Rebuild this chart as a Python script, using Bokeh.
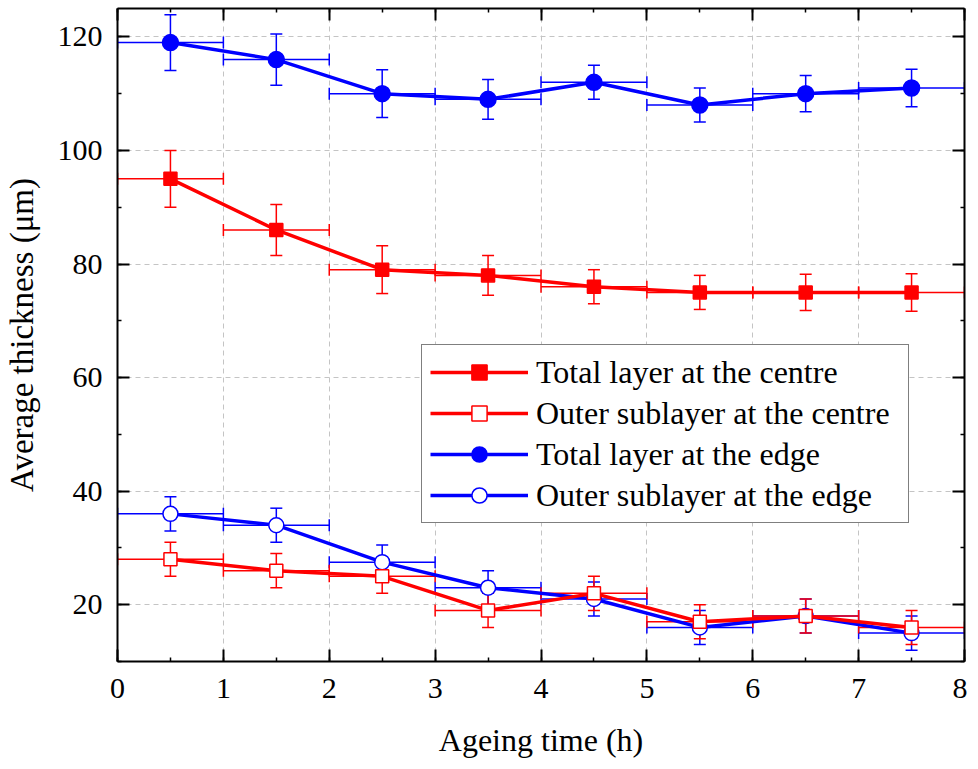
from bokeh.plotting import figure
from bokeh.models import (ColumnDataSource, Whisker, TeeHead, Legend, LegendItem,
                          LinearAxis, SingleIntervalTicker, Range1d,
                          CustomLabelingPolicy)
from bokeh.embed import file_html
from bokeh.resources import INLINE

# ---- data ----
hours = [0.5, 1.5, 2.5, 3.5, 4.5, 5.5, 6.5, 7.5]
hours_err = [0.5, 0.5, 0.5, 0.5, 0.5, 0.5, 0.5, 0.5]

total_centre = [95, 86, 79, 78, 76, 75, 75, 75]
total_centre_err = [5.0, 4.5, 4.2, 3.5, 3.0, 3.0, 3.2, 3.3]

outer_centre = [28, 26, 25, 19, 22, 17, 18, 16]
outer_centre_err = [3.0, 3.0, 3.0, 3.0, 3.0, 3.0, 3.0, 3.0]

total_edge = [119, 116, 110, 109, 112, 108, 110, 111]
total_edge_err = [4.9, 4.5, 4.2, 3.5, 3.0, 3.0, 3.2, 3.3]

outer_edge = [36, 34, 27.5, 23, 21, 16, 18, 15]
outer_edge_err = [3.0, 3.0, 3.0, 3.0, 3.0, 3.0, 3.0, 3.0]

series_labels = ["Total layer at the centre", "Outer sublayer at the centre",
                 "Total layer at the edge", "Outer sublayer at the edge"]

x_label = "Ageing time (h)"
y_label = "Average thickness (\u03bcm)"

RED = "#ff0000"
BLUE = "#0000ff"
FONT = "Liberation Serif"

p = figure(frame_width=847, frame_height=653,
           x_range=Range1d(0, 8), y_range=Range1d(10, 125),
           output_backend="svg", toolbar_location=None,
           min_border_left=112, min_border_right=3, min_border_top=8,
           min_border_bottom=100, outline_line_color=None,
           background_fill_color="white", border_fill_color="white")

xt = SingleIntervalTicker(interval=1, num_minor_ticks=2)
yt = SingleIntervalTicker(interval=20, num_minor_ticks=2)
p.xaxis[0].ticker = xt
p.yaxis[0].ticker = yt

for ax in (p.xaxis[0], p.yaxis[0]):
    ax.axis_line_width = 2
    ax.axis_line_color = "black"
    ax.major_tick_in = 12
    ax.major_tick_out = 0
    ax.minor_tick_in = 4
    ax.minor_tick_out = 0
    ax.major_tick_line_width = 2
    ax.minor_tick_line_width = 1.5
    ax.major_label_text_font = FONT
    ax.major_label_text_font_size = "30px"
    ax.major_label_text_color = "black"
    ax.axis_label_text_font = FONT
    ax.axis_label_text_font_style = "normal"
    ax.axis_label_text_color = "black"

p.xaxis[0].axis_label = x_label
p.yaxis[0].axis_label = y_label
p.xaxis[0].axis_label_text_font_size = "32px"
p.yaxis[0].axis_label_text_font_size = "33px"
p.xaxis[0].major_label_standoff = 17
p.xaxis[0].axis_label_standoff = 21
p.yaxis[0].major_label_standoff = 15
p.yaxis[0].axis_label_standoff = 15

hide_all = CustomLabelingPolicy(
    code="for (const i of Array.from(indices)) { indices.unset(i) }\nreturn indices")

for loc, tk in (("above", SingleIntervalTicker(interval=1, num_minor_ticks=2)),
                ("right", SingleIntervalTicker(interval=20, num_minor_ticks=2))):
    ax = LinearAxis(ticker=tk, axis_line_width=2, axis_line_color="black",
                    major_tick_in=12, major_tick_out=0, minor_tick_in=4,
                    minor_tick_out=0, major_tick_line_width=2,
                    minor_tick_line_width=1.5,
                    major_label_policy=hide_all,
                    major_label_text_font_size="0px", major_label_standoff=0)
    p.add_layout(ax, loc)

p.xgrid.ticker = xt
p.ygrid.ticker = yt
for g in (p.xgrid, p.ygrid):
    g.grid_line_color = "#c4c4c4"
    g.grid_line_dash = "5 4"
    g.grid_line_width = 1


def add_series(yvals, yerr, color, marker, filled, size):
    src = ColumnDataSource(dict(
        x=hours, y=yvals,
        lo=[a - b for a, b in zip(yvals, yerr)],
        hi=[a + b for a, b in zip(yvals, yerr)],
        xl=[a - b for a, b in zip(hours, hours_err)],
        xr=[a + b for a, b in zip(hours, hours_err)],
    ))
    for dim, base, lower, upper in (("height", "x", "lo", "hi"),
                                    ("width", "y", "xl", "xr")):
        w = Whisker(source=src, base=base, lower=lower, upper=upper,
                    dimension=dim, line_color=color, line_width=1.5,
                    upper_head=TeeHead(size=12, line_color=color, line_width=1.5),
                    lower_head=TeeHead(size=12, line_color=color, line_width=1.5))
        p.add_layout(w)
    ln = p.line("x", "y", source=src, line_color=color, line_width=3.5)
    sc = p.scatter("x", "y", source=src, marker=marker, size=size,
                   fill_color=color if filled else "white",
                   line_color=color, line_width=1.5)
    return [ln, sc]


r_tc = add_series(total_centre, total_centre_err, RED, "square", True, 13)
r_te = add_series(total_edge, total_edge_err, BLUE, "circle", True, 16)
r_oe = add_series(outer_edge, outer_edge_err, BLUE, "circle", False, 15)
r_oc = add_series(outer_centre, outer_centre_err, RED, "square", False, 13)

legend = Legend(items=[LegendItem(label=series_labels[0], renderers=r_tc),
                       LegendItem(label=series_labels[1], renderers=r_oc),
                       LegendItem(label=series_labels[2], renderers=r_te),
                       LegendItem(label=series_labels[3], renderers=r_oe)],
                location=(304, 138),
                label_text_font=FONT, label_text_font_size="32px",
                label_text_color="black",
                glyph_width=98, glyph_height=38, label_height=38,
                label_width=364,
                label_standoff=8, spacing=3, padding=8, margin=0,
                border_line_color="black", border_line_width=1.5,
                background_fill_color="white", background_fill_alpha=1.0)
p.add_layout(legend)

open("out.html", "w").write(file_html(p, INLINE))
